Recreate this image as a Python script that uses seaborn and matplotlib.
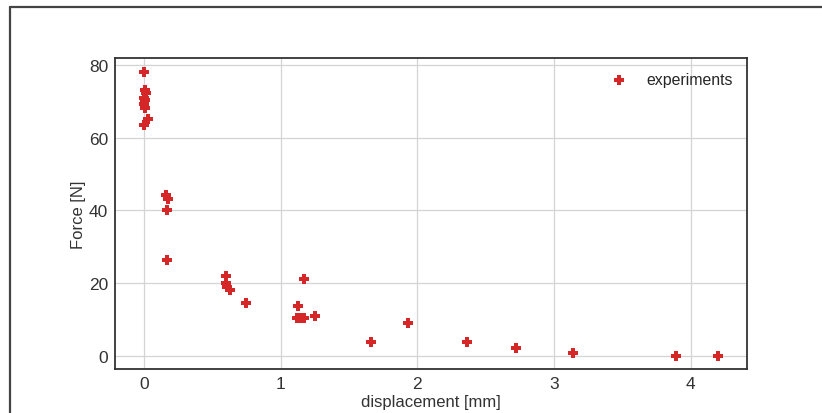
import matplotlib
matplotlib.use("Agg")
import matplotlib.pyplot as plt
from matplotlib.lines import Line2D
import seaborn as sns
import pandas as pd

# Measured force-displacement pairs
displacement_mm = [
    0.00, 0.01, 0.02, 0.00, 0.01, 0.00, 0.01, 0.03, 0.00,
    0.16, 0.18, 0.17, 0.17,
    0.60, 0.60, 0.61, 0.63,
    0.75,
    1.17, 1.13, 1.12, 1.15, 1.17, 1.25,
    1.66, 1.93, 2.36, 2.72, 3.14, 3.89, 4.20,
]
force_N = [
    78.1, 73.0, 72.4, 71.0, 70.4, 69.3, 68.1, 65.1, 63.4,
    44.3, 43.2, 40.1, 26.3,
    22.1, 20.0, 18.9, 18.1,
    14.6,
    21.1, 13.8, 10.4, 10.4, 10.4, 11.0,
    3.8, 9.0, 3.8, 2.1, 0.8, 0.0, 0.0,
]
x_ticks = [0, 1, 2, 3, 4]
y_ticks = [0, 20, 40, 60, 80]

df = pd.DataFrame({"displacement [mm]": displacement_mm, "Force [N]": force_N})

sns.set_theme(style="whitegrid")
plt.rcParams.update({
    "font.family": ["Liberation Sans", "DejaVu Sans"],
    "axes.edgecolor": "#333333",
    "axes.linewidth": 1.3,
    "grid.color": "#d4d4d4",
    "grid.linewidth": 0.9,
    "xtick.color": "#333333",
    "ytick.color": "#333333",
    "axes.labelcolor": "#333333",
})

fig = plt.figure(figsize=(8.22, 4.14), dpi=100)
ax = fig.add_axes([115 / 822, 44 / 414, 632 / 822, 311 / 414])

sns.scatterplot(data=df, x="displacement [mm]", y="Force [N]", ax=ax,
                marker="P", s=46, color="#d62728", linewidth=0,
                label="experiments")

ax.set_xlim(-0.21, 4.41)
ax.set_ylim(-3.6, 81.9)
ax.set_xticks(x_ticks)
ax.set_yticks(y_ticks)
ax.tick_params(axis="both", length=0, pad=5, labelsize=12.5)
ax.set_xlabel("displacement [mm]", fontsize=12, labelpad=2)
ax.set_ylabel("Force [N]", fontsize=12, labelpad=2)
for s in ax.spines.values():
    s.set_visible(True)
    s.set_color("#333333")

leg = ax.legend(loc="upper right", frameon=False, fontsize=11.4,
                handletextpad=0.7, borderaxespad=0.5)

# Outer frame around the figure
frame_kw = dict(color="#444444", linewidth=1.6, transform=fig.transFigure)
fig.add_artist(Line2D([9.5 / 822, 9.5 / 822], [-0.05, 406.5 / 414], **frame_kw))
fig.add_artist(Line2D([9.5 / 822, 1.05], [406.5 / 414, 406.5 / 414], **frame_kw))

fig.savefig("out.png", dpi=100)
